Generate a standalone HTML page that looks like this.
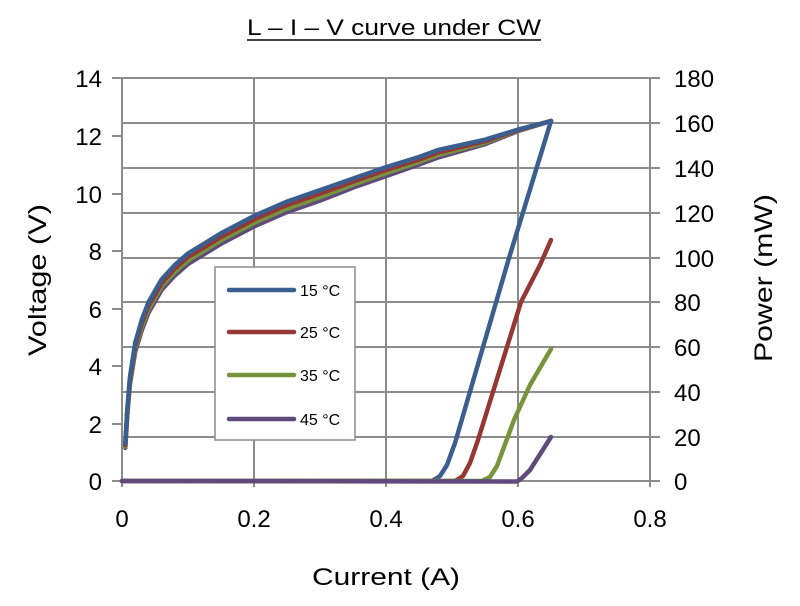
<!DOCTYPE html>
<html><head><meta charset="utf-8"><style>
body{margin:0;background:#fff}
svg text{font-family:"Liberation Sans Narrow","Liberation Sans",sans-serif;fill:#000}
</style></head><body>
<svg width="800" height="601" xmlns="http://www.w3.org/2000/svg">
<rect width="800" height="601" fill="#fff"/>
<text x="247" y="35" font-size="22" textLength="294" lengthAdjust="spacingAndGlyphs">L – I – V curve under CW</text>
<line x1="247" y1="40" x2="541" y2="40" stroke="#000" stroke-width="1.5"/>
<g stroke="#8c8c8c" stroke-width="2">
<line x1="122" y1="78" x2="122" y2="487"/>
<line x1="254" y1="78" x2="254" y2="487"/>
<line x1="386" y1="78" x2="386" y2="487"/>
<line x1="518" y1="78" x2="518" y2="487"/>
<line x1="650" y1="78" x2="650" y2="487"/>
<line x1="112" y1="78" x2="660" y2="78"/>
<line x1="122" y1="123" x2="660" y2="123"/>
<line x1="122" y1="168" x2="660" y2="168"/>
<line x1="122" y1="213" x2="660" y2="213"/>
<line x1="122" y1="258" x2="660" y2="258"/>
<line x1="122" y1="302" x2="660" y2="302"/>
<line x1="122" y1="347" x2="660" y2="347"/>
<line x1="122" y1="392" x2="660" y2="392"/>
<line x1="122" y1="437" x2="660" y2="437"/>
<line x1="112" y1="481" x2="660" y2="481"/>
<line x1="112" y1="136" x2="122" y2="136"/>
<line x1="112" y1="194" x2="122" y2="194"/>
<line x1="112" y1="251" x2="122" y2="251"/>
<line x1="112" y1="309" x2="122" y2="309"/>
<line x1="112" y1="366" x2="122" y2="366"/>
<line x1="112" y1="424" x2="122" y2="424"/>
</g>
<g font-size="24" text-anchor="end">
<text x="102" y="87">14</text><text x="102" y="145">12</text><text x="102" y="203">10</text>
<text x="102" y="260">8</text><text x="102" y="318">6</text><text x="102" y="375">4</text>
<text x="102" y="433">2</text><text x="102" y="490">0</text>
</g>
<g font-size="24" text-anchor="start">
<text x="674" y="87">180</text><text x="674" y="132">160</text><text x="674" y="177">140</text>
<text x="674" y="222">120</text><text x="674" y="267">100</text><text x="674" y="311">80</text>
<text x="674" y="356">60</text><text x="674" y="401">40</text><text x="674" y="446">20</text>
<text x="674" y="490">0</text>
</g>
<g font-size="24" text-anchor="middle">
<text x="122" y="527">0</text><text x="254" y="527">0.2</text><text x="386" y="527">0.4</text>
<text x="518" y="527">0.6</text><text x="650" y="527">0.8</text>
</g>
<text x="312" y="585" font-size="24" textLength="148" lengthAdjust="spacingAndGlyphs">Current (A)</text>
<text font-size="25" transform="translate(46,356) rotate(-90)" textLength="152" lengthAdjust="spacingAndGlyphs">Voltage (V)</text>
<text font-size="25" transform="translate(772,362) rotate(-90)" textLength="168" lengthAdjust="spacingAndGlyphs">Power (mW)</text>
<g fill="none" stroke-width="4.5" stroke-linejoin="round" stroke-linecap="round">
<polyline stroke="#604a7b" points="125.3,448 127.3,415 129.9,384.8 135.2,351.8 141.8,330.2 148.4,312.9 161.6,289.9 174.8,275.5 188,264 221,243.8 254,226.5 287,212.1 320,200.6 353,187.6 386,176.1 419,164.5 438.8,157.3 485,144.2 518,131.1 551,121"/>
<polyline stroke="#77933c" points="125.3,446.6 127.3,413 129.9,382.3 135.2,348.8 141.8,326.7 148.4,309.4 161.6,286.4 174.8,272 188,260.5 221,240.3 254,223 287,208.6 320,197.1 353,184.6 386,173.1 419,162 438.8,154.8 485,142.7 518,130.6 551,121"/>
<polyline stroke="#953735" points="125.3,445 127.3,411 129.9,380 135.2,346 141.8,323 148.4,306 161.6,283 174.8,268.5 188,257 221,237 254,219.5 287,205 320,193.6 353,181.6 386,170 419,159.5 438.8,152.3 485,141.2 518,130.1 551,121"/>
<polyline stroke="#3a5f8f" points="125.3,443.6 127.3,409 129.9,377.3 135.2,342.8 141.8,319.7 148.4,302.4 161.6,279.4 174.8,265 188,253.5 221,233.3 254,216 287,201.6 320,190.1 353,178.6 386,167.1 419,157 438.8,149.8 485,139.7 518,129.6 551,121"/>
<polyline stroke="#3a5f8f" points="122,481 432,481 440,476 447,465 455,443 509,258 551,121"/>
<polyline stroke="#953735" points="122,481 455,481 463,476 470,463 478,440 521,302 540,265 551,240"/>
<polyline stroke="#77933c" points="122,481 482,481 490,477 497,466 514,420 530,385 551,349"/>
<polyline stroke="#604a7b" points="122,481 517,481.5 522,478 530,470 551,437"/>
</g>
<rect x="215" y="267" width="140" height="173" fill="#fff" stroke="#8c8c8c" stroke-width="1.5"/>
<g stroke-width="4.5" stroke-linecap="round">
<line x1="229" y1="290" x2="294" y2="290" stroke="#3a5f8f"/>
<line x1="229" y1="332" x2="294" y2="332" stroke="#953735"/>
<line x1="229" y1="375" x2="294" y2="375" stroke="#77933c"/>
<line x1="229" y1="419" x2="294" y2="419" stroke="#604a7b"/>
</g>
<g font-size="16">
<text x="300" y="296">15 °C</text><text x="300" y="338">25 °C</text>
<text x="300" y="381">35 °C</text><text x="300" y="425">45 °C</text>
</g>
</svg>
</body></html>
